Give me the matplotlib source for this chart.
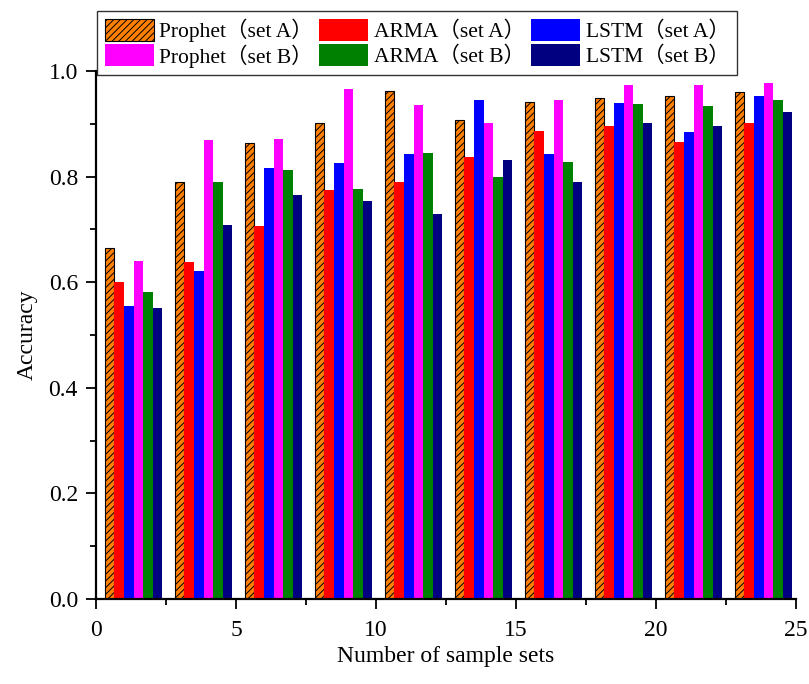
import matplotlib
matplotlib.use("Agg")
import matplotlib.pyplot as plt
from matplotlib.ticker import MultipleLocator
import numpy as np

# ---- data ----
series_names = ["Prophet（set A）", "Prophet（set B）", "ARMA（set A）",
                "ARMA（set B）", "LSTM（set A）", "LSTM（set B）"]
prophet_a = [0.665, 0.789, 0.863, 0.902, 0.963, 0.907, 0.942, 0.949, 0.953, 0.960]
arma_a    = [0.601, 0.638, 0.707, 0.775, 0.790, 0.838, 0.886, 0.895, 0.866, 0.902]
lstm_a    = [0.554, 0.622, 0.817, 0.826, 0.843, 0.946, 0.843, 0.940, 0.885, 0.952]
prophet_b = [0.641, 0.869, 0.872, 0.965, 0.935, 0.901, 0.946, 0.974, 0.974, 0.977]
arma_b    = [0.582, 0.790, 0.812, 0.776, 0.844, 0.799, 0.827, 0.938, 0.934, 0.946]
lstm_b    = [0.551, 0.708, 0.765, 0.754, 0.730, 0.832, 0.790, 0.902, 0.895, 0.922]
group_pos = [1.34, 3.84, 6.34, 8.84, 11.34, 13.84, 16.34, 18.84, 21.34, 23.84]
x_ticks = [0, 5, 10, 15, 20, 25]
y_ticks = [0.0, 0.2, 0.4, 0.6, 0.8, 1.0]

plt.rcParams['font.family'] = ['Liberation Serif', 'Noto Sans CJK SC', 'DejaVu Sans']
plt.rcParams['hatch.linewidth'] = 0.7
plt.rcParams['hatch.color'] = '#3a2a1a'

fig = plt.figure(figsize=(8.09, 6.84), dpi=100)
ax = fig.add_axes([96/809, 1-599/684, 700/809, 528/684])

w = 0.34
gp = np.array(group_pos)
order = [
    (prophet_a, "Prophet（set A）", dict(facecolor='#FF8000', edgecolor='black', hatch='/////', linewidth=0.8)),
    (arma_a, "ARMA（set A）", dict(facecolor='#FF0000', edgecolor='none')),
    (lstm_a, "LSTM（set A）", dict(facecolor='#0000FF', edgecolor='none')),
    (prophet_b, "Prophet（set B）", dict(facecolor='#FF00FF', edgecolor='none')),
    (arma_b, "ARMA（set B）", dict(facecolor='#008000', edgecolor='none')),
    (lstm_b, "LSTM（set B）", dict(facecolor='#000080', edgecolor='none')),
]
handles = {}
for k, (vals, name, st) in enumerate(order):
    b = ax.bar(gp + (k - 2.5) * w, vals, width=w, label=name, **st)
    handles[name] = b

ax.set_xlim(0, 25)
ax.set_ylim(0, 1.0)
ax.set_xticks(x_ticks)
ax.set_yticks(y_ticks)
ax.set_yticklabels([f"{v:.1f}" for v in y_ticks])
ax.xaxis.set_minor_locator(MultipleLocator(2.5))
ax.yaxis.set_minor_locator(MultipleLocator(0.1))
ax.tick_params(axis='both', which='major', direction='out', length=7, width=1.3, labelsize=17, pad=6)
ax.tick_params(axis='x', which='major', pad=8)
ax.tick_params(axis='both', which='minor', direction='out', length=4, width=1.3)
for s in ['top', 'right']:
    ax.spines[s].set_visible(False)
for s in ['left', 'bottom']:
    ax.spines[s].set_linewidth(1.6)
ax.set_xlabel("Number of sample sets", fontsize=17, labelpad=4)
ax.set_ylabel("Accuracy", fontsize=17, labelpad=8)

leg_order = ["Prophet（set A）", "Prophet（set B）", "ARMA（set A）",
             "ARMA（set B）", "LSTM（set A）", "LSTM（set B）"]
leg = fig.legend([handles[n] for n in leg_order], leg_order, ncol=3,
                 loc='upper left', bbox_to_anchor=(97/809, 1-11/684, 640/809, 0.0),
                 mode='expand', fontsize=15.5, frameon=True, fancybox=False,
                 edgecolor='black', handlelength=2.3, handleheight=1.2,
                 handletextpad=0.25, columnspacing=0.5, labelspacing=0.1,
                 borderpad=0.35, borderaxespad=0)
leg.get_frame().set_linewidth(1.0)

fig.savefig("out.png", dpi=100)
